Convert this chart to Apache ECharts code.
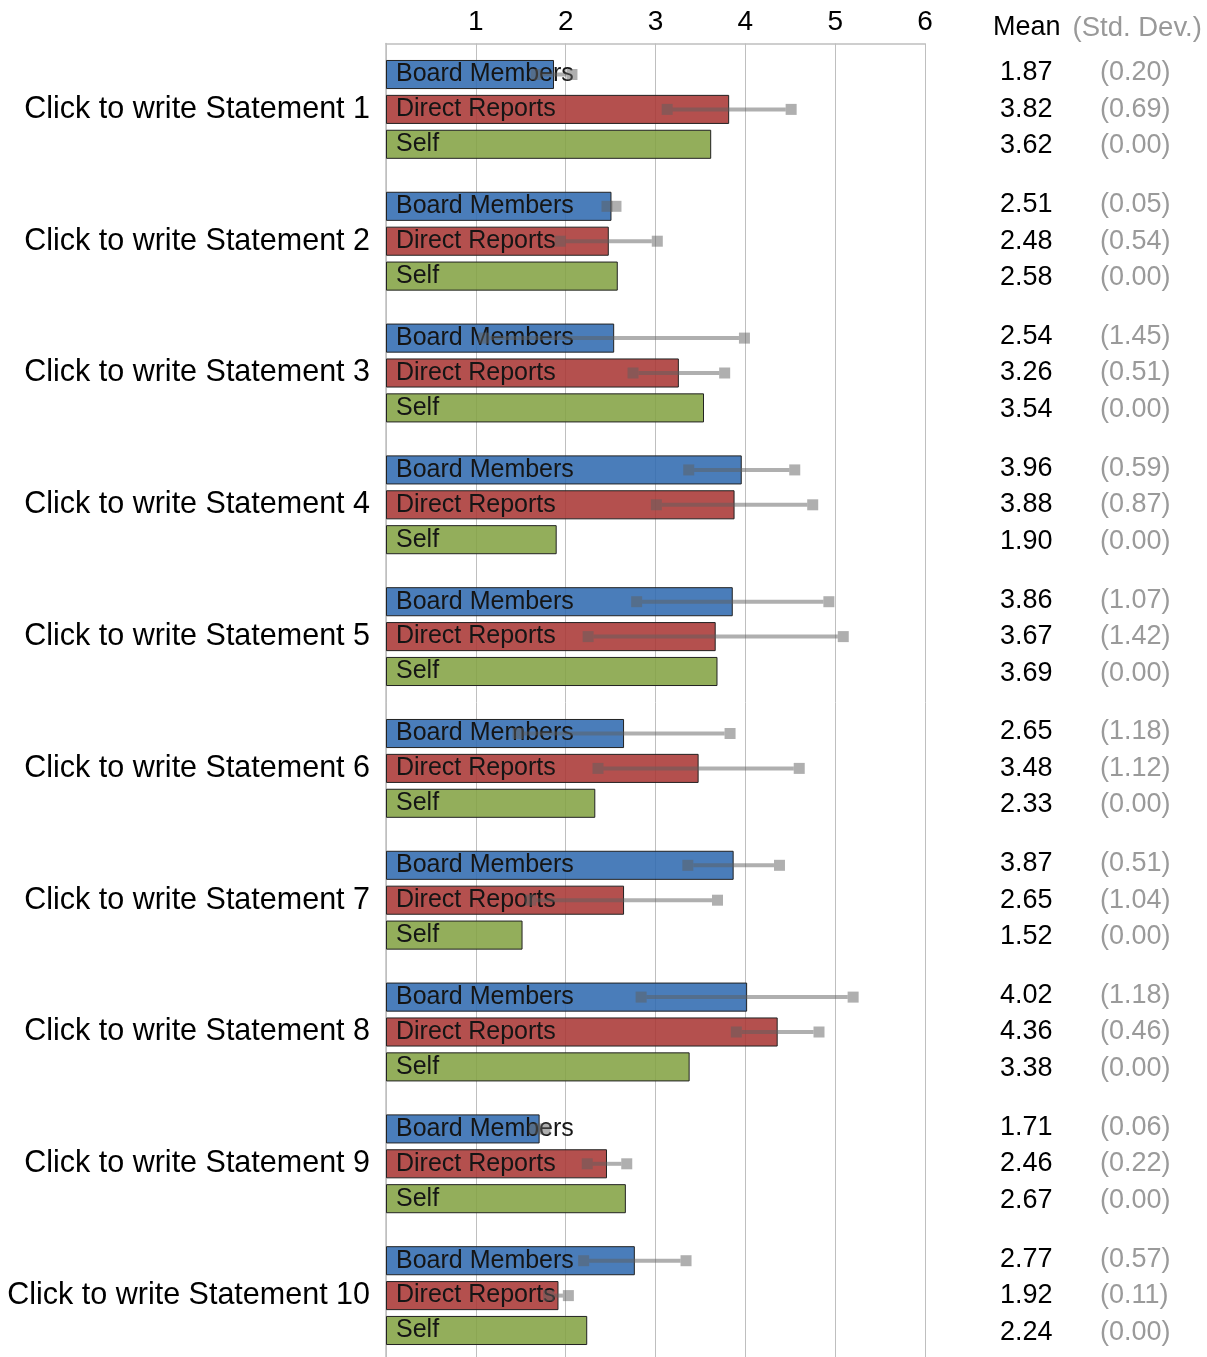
<!DOCTYPE html>
<html>
<head>
<meta charset="utf-8">
<script src="https://cdn.jsdelivr.net/npm/echarts@6/dist/echarts.min.js"></script>
<style>html,body{margin:0;padding:0;background:#fff;overflow:hidden;}#chart{width:1207px;height:1380px;}</style>
</head>
<body>
<div id="chart"></div>
<script>
const statements = ['Click to write Statement 1','Click to write Statement 2','Click to write Statement 3','Click to write Statement 4','Click to write Statement 5','Click to write Statement 6','Click to write Statement 7','Click to write Statement 8','Click to write Statement 9','Click to write Statement 10'];
const groupNames = ['Board Members','Direct Reports','Self'];
const boardMean  = [1.87, 2.51, 2.54, 3.96, 3.86, 2.65, 3.87, 4.02, 1.71, 2.77];
const boardSD    = [0.20, 0.05, 1.45, 0.59, 1.07, 1.18, 0.51, 1.18, 0.06, 0.57];
const directMean = [3.82, 2.48, 3.26, 3.88, 3.67, 3.48, 2.65, 4.36, 2.46, 1.92];
const directSD   = [0.69, 0.54, 0.51, 0.87, 1.42, 1.12, 1.04, 0.46, 0.22, 0.11];
const selfMean   = [3.62, 2.58, 3.54, 1.90, 3.69, 2.33, 1.52, 3.38, 2.67, 2.24];
const selfSD     = [0.00, 0.00, 0.00, 0.00, 0.00, 0.00, 0.00, 0.00, 0.00, 0.00];
const xTicks = [1, 2, 3, 4, 5, 6];

const means = [boardMean, directMean, selfMean];
const sds = [boardSD, directSD, selfSD];
const colors = ['rgba(49,107,177,0.88)', 'rgba(170,56,54,0.88)', 'rgba(132,163,68,0.88)'];
const CAT_GAP = 0.25, BAR_GAP = 0.2;

const errData = [];
statements.forEach((s, i) => {
  for (let k = 0; k < 3; k++) {
    if (sds[k][i] > 0) errData.push([i, k, means[k][i], sds[k][i]]);
  }
});

const chart = echarts.init(document.getElementById('chart'));
const FONT = 'Liberation Sans, Arial, sans-serif';
const errColor = 'rgba(95,95,95,0.5)';

const barSeries = groupNames.map((name, k) => ({
  type: 'bar',
  name: name,
  data: means[k],
  barCategoryGap: (CAT_GAP * 100) + '%',
  barGap: (BAR_GAP * 100) + '%',
  itemStyle: { color: colors[k], borderColor: '#222', borderWidth: 1 },
  label: {
    show: true, position: 'insideLeft', distance: 10,
    formatter: () => name, color: '#151515', fontSize: 25, fontFamily: FONT
  },
  z: 2
}));

chart.setOption({
  animation: false,
  textStyle: { fontFamily: FONT },
  title: {
    left: 993, top: 14, padding: 0,
    text: '{a|Mean}{b|(Std. Dev.)}',
    textStyle: { fontWeight: 'normal', rich: {
      a: { fontSize: 27, color: '#000', fontWeight: 'normal', fontFamily: FONT },
      b: { fontSize: 27.5, color: '#999', fontWeight: 'normal', fontFamily: FONT, padding: [0, 0, 0, 12] }
    } }
  },
  grid: { left: 386, top: 43.5, width: 539, height: 1318, containLabel: false },
  xAxis: {
    type: 'value', position: 'top', min: 0, max: 6, interval: 1,
    axisLine: { show: true, lineStyle: { color: '#BFBFBF', width: 1.5 } },
    axisTick: { show: false },
    splitLine: { show: true, lineStyle: { color: '#BFBFBF', width: 1 } },
    axisLabel: {
      fontSize: 28, color: '#000', margin: 7,
      formatter: v => (xTicks.indexOf(v) >= 0 ? String(v) : '')
    }
  },
  yAxis: [{
    type: 'category', inverse: true, data: statements,
    axisLine: { show: true, lineStyle: { color: '#BFBFBF', width: 1.5 } },
    axisTick: { show: false },
    axisLabel: { fontSize: 30.5, color: '#000', margin: 16 }
  }, {
    type: 'category', inverse: true, data: statements, position: 'right',
    axisLine: { show: false }, axisTick: { show: false }, splitLine: { show: false },
    axisLabel: {
      margin: 75, align: 'left',
      formatter: (v, i) => [0, 1, 2].map(k =>
        '{m|' + means[k][i].toFixed(2) + '}{s|(' + sds[k][i].toFixed(2) + ')}').join('\n'),
      rich: {
        m: { fontSize: 27, color: '#000', width: 100, lineHeight: 36.5, fontFamily: FONT },
        s: { fontSize: 27, color: '#9a9a9a', lineHeight: 36.5, fontFamily: FONT }
      }
    }
  }],
  series: barSeries.concat([{
    type: 'custom',
    name: 'errors',
    data: errData,
    encode: { x: 2, y: 0 },
    z: 10,
    silent: true,
    renderItem: function (params, api) {
      const cat = api.value(0), k = api.value(1), m = api.value(2), s = api.value(3);
      const band = api.size([0, 1])[1];
      const bw = band * (1 - CAT_GAP) / (3 + 2 * BAR_GAP);
      const off = (k - 1) * bw * (1 + BAR_GAP);
      const p1 = api.coord([m - s, cat]);
      const p2 = api.coord([m + s, cat]);
      const y = p1[1] + off;
      const h = 11;
      const children = [];
      if (p2[0] - p1[0] > h) {
        children.push({ type: 'line', shape: { x1: p1[0] + h / 2, y1: y, x2: p2[0] - h / 2, y2: y },
          style: { stroke: errColor, lineWidth: 4 } });
      }
      children.push({ type: 'rect', shape: { x: p1[0] - h / 2, y: y - h / 2, width: h, height: h }, style: { fill: errColor } });
      children.push({ type: 'rect', shape: { x: p2[0] - h / 2, y: y - h / 2, width: h, height: h }, style: { fill: errColor } });
      return { type: 'group', children: children };
    }
  }])
});
</script>
</body>
</html>
